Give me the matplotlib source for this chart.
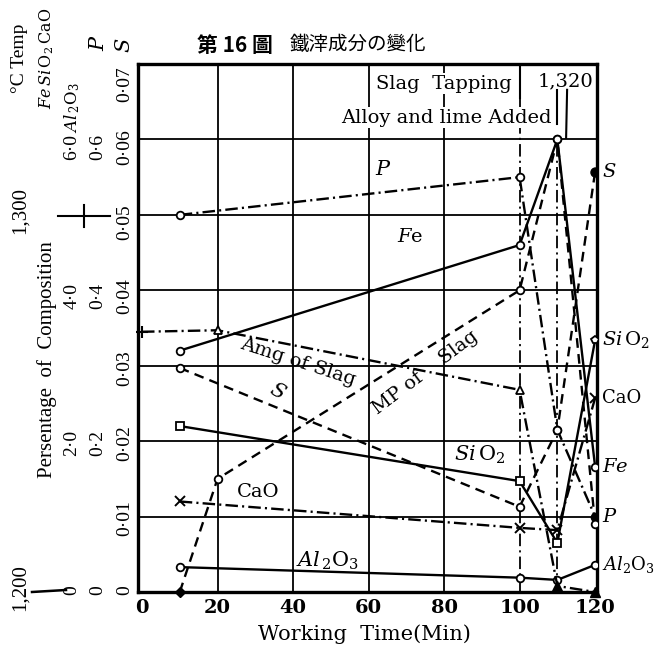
import matplotlib
matplotlib.use("Agg")
import matplotlib.pyplot as plt
from matplotlib.lines import Line2D

plt.rcParams['mathtext.fontset'] = 'dejavuserif'
plt.rcParams['font.family'] = ['DejaVu Serif']
plt.rcParams['lines.scale_dashes'] = False

# ---------------- data ----------------
x_ticks = [0, 20, 40, 60, 80, 100, 120]
times4 = [10, 100, 110, 120]
fe_pct = [3.2, 4.6, 6.0, 1.66]          # Fe %, scale 0-7
sio2_pct = [2.2, 1.47, 0.65, 3.34]      # SiO2 %, scale 0-7
cao_pct = [1.2, 0.85, 0.82, 2.57]       # CaO %, scale 0-7
al2o3_pct = [0.033, 0.019, 0.016, 0.036]  # Al2O3 %, scale 0-0.7
p_pct = [0.50, 0.55, 0.215, 0.10]       # P, scale 0-0.7
s_pct = [0.0297, 0.0113, 0.0215, 0.0557]  # S %, scale 0-0.07
mp_times = [10, 20, 100, 110, 120]
mp_temp = [1200, 1230, 1280, 1320, 1218]  # melting point of slag, deg C
slag_times = [0, 20, 100, 110, 120]
slag_amount = [3.45, 3.47, 2.68, 0.08, 0.0]  # amount of slag (chart units)


def u_pct(v):
    return [a for a in v]


def u_al(v):
    return [a * 10 for a in v]


def u_s(v):
    return [a * 100 for a in v]


def u_temp(v):
    return [(a - 1200) / 20.0 for a in v]


W, H = 664, 648
fig = plt.figure(figsize=(6.64, 6.48), dpi=100)
L, R, T, B = 138, 597, 64, 592
ax = fig.add_axes([L / W, 1 - B / H, (R - L) / W, (B - T) / H])
ax.set_xlim(-1.06, 120.5)
ax.set_ylim(0, 7)


def px2x(px):
    return (px - 142) / 3.775


def py2y(py):
    return (592 - py) / 75.4


K = 'black'
# grid
for gx in [20, 40, 60, 80]:
    ax.axvline(gx, color=K, lw=1.3, zorder=1)
for gy in range(1, 7):
    ax.axhline(gy, color=K, lw=1.3, zorder=1)
ax.plot([100, 100], [0, 7], color=K, lw=1.3, dashes=(9, 3, 1.5, 3), zorder=1)
ax.plot([110, 110], [0, 6.0], color=K, lw=1.3, dashes=(9, 3, 1.5, 3), zorder=1)

for s in ax.spines.values():
    s.set_linewidth(2.4)
ax.tick_params(axis='y', left=False, labelleft=False)
ax.tick_params(axis='x', length=0, pad=5)
ax.set_xticks(x_ticks)
ax.set_xticklabels([str(v) for v in x_ticks], fontsize=14, fontweight='bold')

DASH = (7, 4.5)
DDOT = (9, 3, 1.5, 3)
lw = 1.7
mk = dict(mfc='white', mec=K, mew=1.3, ms=5.5)

# Fe (solid)
ax.plot(times4, u_pct(fe_pct), color=K, lw=lw, marker='o', zorder=3, **mk)
# SiO2 (solid)
ax.plot(times4, u_pct(sio2_pct), color=K, lw=lw, zorder=3)
ax.plot(times4[:3], u_pct(sio2_pct)[:3], ls='none', marker='s', zorder=4, **mk)
ax.plot(times4[3:], u_pct(sio2_pct)[3:], ls='none', marker='p', zorder=4, **mk)
# CaO (dash-dot, crosses)
ax.plot(times4, u_pct(cao_pct), color=K, lw=lw, dashes=DDOT, marker='x', ms=7,
        mec=K, mew=1.4, zorder=3)
# Al2O3 (solid)
ax.plot(times4, u_al(al2o3_pct), color=K, lw=lw, marker='o', zorder=3, **mk)
# P (dash-dot)
ax.plot(times4, u_al(p_pct), color=K, lw=lw, dashes=DDOT, zorder=3)
ax.plot(times4[:3], u_al(p_pct)[:3], ls='none', marker='o', zorder=4, **mk)
ax.plot(times4[3:], u_al(p_pct)[3:], ls='none', marker='o', ms=6, color=K, zorder=4)
# S (dashed)
ax.plot(times4, u_s(s_pct), color=K, lw=lw, dashes=DASH, zorder=3)
ax.plot(times4[:3], u_s(s_pct)[:3], ls='none', marker='o', zorder=4, **mk)
ax.plot(times4[3:], u_s(s_pct)[3:], ls='none', marker='o', ms=6.5, color=K, zorder=4)
# MP of slag (dashed)
ax.plot(mp_times, u_temp(mp_temp), color=K, lw=lw, dashes=DASH, zorder=3)
ax.plot(mp_times[1:], u_temp(mp_temp)[1:], ls='none', marker='o', zorder=4, **mk)
ax.plot(mp_times[:1], u_temp(mp_temp)[:1], ls='none', marker='D', ms=5, color=K,
        zorder=4, clip_on=False)
# Amount of slag (dash-dot, triangles)
ax.plot(slag_times, slag_amount, color=K, lw=lw, dashes=DDOT, zorder=3, clip_on=False)
ax.plot(slag_times[1:3], slag_amount[1:3], ls='none', marker='^', zorder=4, **mk)
ax.plot(slag_times[3:], slag_amount[3:], ls='none', marker='^', ms=7, color=K,
        zorder=4, clip_on=False)
ax.plot(slag_times[:1], slag_amount[:1], ls='none', marker='+', ms=9, mew=1.5,
        color=K, zorder=4, clip_on=False)

# labels inside plot
tk = dict(color=K, zorder=5)
ax.text(px2x(383), py2y(170), '$P$', fontsize=15, ha='center', va='center', **tk)
ax.text(px2x(410), py2y(237), r'$\mathit{F}$e', fontsize=14, ha='center', va='center', **tk)
ax.text(px2x(298), py2y(362), 'Amg of Slag', fontsize=14, rotation=-18,
        ha='center', va='center', rotation_mode='anchor', **tk)
ax.text(px2x(277), py2y(391), '$S$', fontsize=15, rotation=-30, ha='center',
        va='center', **tk)
ax.text(px2x(425), py2y(373), 'MP of    Slag', fontsize=14, rotation=37,
        ha='center', va='center', rotation_mode='anchor', **tk)
ax.text(px2x(480), py2y(455), r'$\mathit{Si}\,\mathrm{O}_2$', fontsize=15,
        ha='center', va='center', **tk)
ax.text(px2x(258), py2y(492), 'CaO', fontsize=14, ha='center', va='center', **tk)
ax.text(px2x(327), py2y(561), r'$\mathit{Al}_{\,2}\mathrm{O}_3$', fontsize=15,
        ha='center', va='center', **tk)

# annotations at top
bb = dict(facecolor='white', edgecolor='none', pad=1.0)
ax.text(px2x(512), py2y(84), 'Slag  Tapping', fontsize=14, ha='right', va='center',
        bbox=bb, zorder=6)
ax.text(px2x(593), py2y(82), '1,320', fontsize=14, ha='right', va='center',
        bbox=bb, zorder=6)
ax.text(px2x(552), py2y(118), 'Alloy and lime Added', fontsize=14, ha='right',
        va='center', bbox=bb, zorder=6)
ax.plot([100, 100], [7.0, py2y(98)], color=K, lw=1.5, zorder=7)
ax.plot([110, 110], [py2y(90), py2y(124)], color=K, lw=1.5, zorder=7)
ax.plot([px2x(567), px2x(566)], [py2y(90), py2y(138)], color=K, lw=1.5, zorder=7)

# right-hand labels
rx = px2x(602)
rk = dict(fontsize=14, ha='left', va='center', clip_on=False)
ax.text(rx, py2y(172), '$S$', **rk)
ax.text(rx, py2y(340), r'$\mathit{Si}\,\mathrm{O}_2$', **rk)
ax.text(rx, py2y(398), 'CaO', fontsize=13, ha='left', va='center', clip_on=False)
ax.text(rx, py2y(467), r'$\mathit{Fe}$', **rk)
ax.text(rx, py2y(517), '$P$', **rk)
ax.text(rx, py2y(565), r'$\mathit{Al}_{2}\mathrm{O}_3$', fontsize=13, ha='left',
        va='center', clip_on=False)

# x label
fig.text(364 / W, 1 - 634 / H, 'Working  Time(Min)', fontsize=15, ha='center',
         va='center')

# title
fig.text(197 / W, 1 - 45 / H, '第 16 圖', fontsize=15, fontweight='bold',
         family=['Noto Sans CJK JP', 'DejaVu Sans'], ha='left', va='center')
fig.text(290 / W, 1 - 45 / H, '鐵滓成分の變化', fontsize=14,
         family=['Noto Sans CJK JP', 'DejaVu Sans'], ha='left', va='center')


# left-hand rotated scales
def ftext(x, y, s, size=14, **kw):
    fig.text(x / W, 1 - y / H, s, fontsize=size, rotation=90, ha='center',
             va='center', **kw)


LS = dict(family=['Liberation Serif', 'DejaVu Serif'])
ftext(20, 58, '°C Temp', 14, **LS)
ftext(20, 210, '1,300', 15, **LS)
ftext(20, 588, '1,200', 15, **LS)
ftext(47, 58, r'$\mathit{Fe}\,\mathit{Si}\,\mathrm{O}_2\,\mathrm{CaO}$', 11.5)
ftext(47, 360, 'Persentage  of  Composition', 15, **LS)
ftext(72, 108, r'$\mathit{Al}_{\,2}\mathrm{O}_3$', 12)
ftext(98, 43, '$P$', 15)
ftext(125, 45, '$S$', 15)
for lab, y in [('6·0', 147), ('4·0', 296), ('2·0', 443), ('0', 590)]:
    ftext(72, y, lab, 14, **LS)
for lab, y in [('0·6', 147), ('0·4', 296), ('0·2', 443), ('0', 590)]:
    ftext(98, y, lab, 14, **LS)
for lab, y in [('0·07', 84), ('0·06', 147), ('0·05', 222), ('0·04', 296),
               ('0·03', 368), ('0·02', 443), ('0·01', 518), ('0', 590)]:
    ftext(125, y, lab, 14, **LS)

fig.add_artist(Line2D([58 / W, 110 / W], [1 - 216 / H, 1 - 216 / H], color=K, lw=1.5))
fig.add_artist(Line2D([84 / W, 84 / W], [1 - 205 / H, 1 - 227 / H], color=K, lw=1.5))
fig.add_artist(Line2D([32 / W, 66 / W], [1 - 592 / H, 1 - 590 / H], color=K, lw=1.8))

fig.savefig('out.png', dpi=100, facecolor='white')
